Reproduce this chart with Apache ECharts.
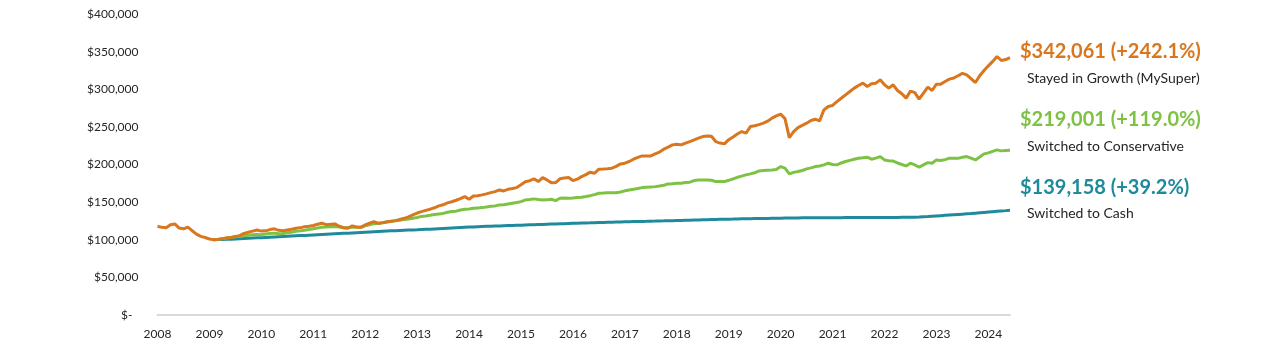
<!DOCTYPE html>
<html>
<head>
<meta charset="utf-8">
<script src="https://cdn.jsdelivr.net/npm/echarts@6/dist/echarts.min.js"></script>
<style>
html,body{margin:0;padding:0;background:#fff;}
#chart{width:1280px;height:348px;}
</style>
</head>
<body>
<div id="chart"></div>
<script>
// Monthly values, Jan 2008 .. Jun 2024, in $ thousands
const startYear = 2008;
const yearLabels = ['2008','2009','2010','2011','2012','2013','2014','2015','2016','2017','2018','2019','2020','2021','2022','2023','2024'];
const switchMonth = '2009-02';

const growth = [
118.0,116.5,116.0,120.0,121.0,115.5,114.5,116.8,112.0,107.5,104.5,103.0,
101.0,100.0,100.5,101.5,102.5,103.0,104.5,105.5,108.5,110.0,111.5,113.0,
111.5,111.8,113.5,114.5,112.5,112.0,113.0,114.0,115.3,115.8,117.4,118.0,
119.0,120.5,122.0,120.0,120.5,121.0,118.0,116.0,115.3,118.4,117.0,116.6,
119.7,122.0,124.0,122.0,122.7,123.5,124.5,125.4,127.0,128.5,130.5,133.0,
135.5,137.4,139.0,140.6,142.5,145.0,146.5,149.0,150.5,152.5,154.7,157.3,
153.8,158.2,158.5,159.6,161.0,162.6,164.0,166.2,164.9,167.0,168.0,169.3,
173.0,177.0,178.5,180.9,177.3,182.6,179.5,175.9,176.0,181.0,182.0,182.6,
178.6,180.5,183.9,186.5,189.8,188.4,193.8,194.0,194.5,195.1,197.5,200.8,
201.7,204.0,207.0,209.5,211.4,211.4,211.4,214.0,216.5,220.3,223.0,226.1,
227.0,226.1,228.5,230.5,232.7,235.0,237.1,238.0,237.5,230.5,228.5,227.4,
233.0,236.5,240.5,243.8,241.6,250.4,251.5,253.0,254.9,257.5,261.6,264.5,
266.9,261.0,235.8,243.8,249.1,252.0,254.9,258.5,260.2,258.0,272.6,277.0,
278.5,283.6,288.0,292.6,297.0,301.5,305.0,308.1,303.6,307.2,308.1,312.5,
305.9,301.5,305.9,298.3,294.0,288.2,297.5,295.6,286.8,294.8,302.8,298.3,
306.8,306.8,310.3,313.4,315.0,318.0,321.0,319.1,314.0,308.9,318.0,324.9,
331.1,337.0,343.5,338.2,339.5,342.061
];

// from Feb 2009
const conservative = [
100.0,100.6,101.4,102.3,103.0,104.0,104.6,105.3,106.0,106.5,107.0,
106.8,107.5,108.3,108.8,108.0,108.3,109.3,110.0,111.2,111.8,112.5,113.5,
114.5,115.5,116.5,117.0,117.4,117.5,116.8,116.0,116.0,117.0,116.6,116.6,
118.5,120.0,121.5,121.5,122.5,124.0,124.5,125.2,126.0,126.8,127.5,128.6,
129.5,131.0,131.6,132.5,133.5,134.3,135.0,136.5,137.5,138.0,139.6,140.5,
141.0,141.8,142.3,142.7,143.5,144.5,145.0,146.3,146.5,147.5,148.5,149.5,
150.7,152.9,153.5,154.3,153.5,152.9,153.0,153.8,152.0,155.2,155.5,155.2,
155.5,156.0,156.5,157.5,158.6,160.0,161.8,162.0,162.3,162.6,162.6,163.5,
165.0,166.2,167.0,168.0,169.3,169.8,170.2,170.6,171.5,172.5,174.2,174.5,
175.0,175.1,176.0,176.5,178.6,179.5,179.5,179.5,179.0,177.3,177.3,177.3,
179.0,180.9,183.0,184.5,186.2,187.5,189.0,191.5,192.0,192.5,192.8,193.5,
197.2,195.1,187.5,189.5,190.6,192.0,194.2,195.5,197.2,198.0,199.5,201.7,
200.0,199.5,202.0,204.0,205.5,207.0,208.4,209.0,209.7,207.0,208.5,210.5,
206.1,205.0,204.5,202.0,200.0,198.1,201.7,199.5,196.4,199.5,202.5,201.7,
206.1,205.2,206.5,208.4,208.4,208.4,209.5,210.5,208.5,206.1,210.0,214.1,
215.5,217.5,219.4,218.1,218.6,219.001
];

// from Feb 2009
const cash = [
100.0,100.2,100.4,100.6,100.8,101.0,101.3,101.6,101.9,102.2,102.5,
102.8,103.1,103.4,103.7,104.0,104.3,104.6,104.9,105.2,105.5,105.8,106.1,
106.4,106.7,107.0,107.3,107.6,107.9,108.2,108.5,108.8,109.1,109.4,109.7,
110.0,110.3,110.6,110.9,111.2,111.5,111.8,112.1,112.4,112.6,112.8,113.0,
113.2,113.5,113.8,114.1,114.4,114.7,115.0,115.3,115.6,115.9,116.2,116.5,
116.8,117.1,117.4,117.6,117.8,118.0,118.2,118.4,118.6,118.8,119.0,119.2,
119.4,119.6,119.8,120.0,120.2,120.4,120.6,120.8,121.0,121.2,121.4,121.6,
121.8,122.0,122.2,122.4,122.5,122.7,122.9,123.0,123.2,123.3,123.5,123.6,
123.8,123.9,124.1,124.2,124.4,124.5,124.7,124.8,125.0,125.1,125.3,125.4,
125.6,125.7,125.9,126.0,126.2,126.3,126.5,126.6,126.8,126.9,127.1,127.2,
127.4,127.5,127.7,127.8,127.9,128.0,128.1,128.2,128.3,128.4,128.5,128.6,
128.7,128.8,128.9,129.0,129.0,129.1,129.1,129.2,129.2,129.3,129.3,129.3,
129.4,129.4,129.4,129.5,129.5,129.5,129.5,129.6,129.6,129.6,129.6,129.7,
129.7,129.7,129.7,129.7,129.8,129.8,129.9,130.0,130.2,130.5,130.8,131.2,
131.6,132.0,132.4,132.8,133.2,133.6,134.0,134.4,134.8,135.3,135.8,136.3,
136.8,137.3,137.8,138.3,138.7,139.158
];

const seriesNames = ['Stayed in Growth (MySuper)','Switched to Conservative','Switched to Cash'];
const endTexts = ['$342,061 (+242.1%)','$219,001 (+119.0%)','$139,158 (+39.2%)'];
const colors = ['#D9761E','#7DC242','#1E8A9B'];

const months = [];
for (let i = 0; i < growth.length; i++) {
  months.push((startYear + Math.floor(i / 12)) + '-' + String(i % 12 + 1).padStart(2, '0'));
}
const offset = months.indexOf(switchMonth);
const pad = arr => new Array(offset).fill(null).concat(arr);

const chart = echarts.init(document.getElementById('chart'), null, {renderer: 'canvas'});
const FONT = 'Lato, "Open Sans", sans-serif';

const labelY = [[52, 78], [120, 146], [188, 213]];
const graphics = [];
for (let k = 0; k < 3; k++) {
  graphics.push({type: 'text', x: 1020, y: labelY[k][0], silent: true,
    style: {text: endTexts[k], fill: colors[k], font: 'bold 20px ' + FONT, verticalAlign: 'middle', align: 'left'}});
  graphics.push({type: 'text', x: 1027, y: labelY[k][1], silent: true,
    style: {text: seriesNames[k], fill: '#262626', font: '14px ' + FONT, verticalAlign: 'middle', align: 'left'}});
}

chart.setOption({
  animation: false,
  textStyle: {fontFamily: FONT},
  grid: {left: 157.5, right: 270, top: 14, bottom: 33, containLabel: false},
  xAxis: {
    type: 'category',
    data: months,
    boundaryGap: false,
    axisLine: {show: true, lineStyle: {color: '#D9D9D9', width: 2}},
    axisTick: {show: false},
    splitLine: {show: false},
    axisLabel: {
      interval: (idx) => idx % 12 === 0,
      formatter: (v) => yearLabels[yearLabels.indexOf(v.slice(0, 4))],
      color: '#262626', fontSize: 12, margin: 13, fontFamily: FONT
    }
  },
  yAxis: {
    type: 'value',
    min: 0, max: 400, interval: 50,
    axisLine: {show: false},
    axisTick: {show: false},
    splitLine: {show: false},
    axisLabel: {
      formatter: (v) => v === 0 ? '$-  ' : '$' + (v * 1000).toLocaleString('en-US'),
      color: '#262626', fontSize: 12, margin: 19, fontFamily: FONT
    }
  },
  series: [
    {name: seriesNames[2], type: 'line', data: pad(cash), showSymbol: false, symbol: 'none',
     lineStyle: {color: colors[2], width: 3}, itemStyle: {color: colors[2]}, z: 2},
    {name: seriesNames[1], type: 'line', data: pad(conservative), showSymbol: false, symbol: 'none',
     lineStyle: {color: colors[1], width: 3}, itemStyle: {color: colors[1]}, z: 3},
    {name: seriesNames[0], type: 'line', data: growth, showSymbol: false, symbol: 'none',
     lineStyle: {color: colors[0], width: 3}, itemStyle: {color: colors[0]}, z: 4}
  ],
  graphic: graphics
});
</script>
</body>
</html>
